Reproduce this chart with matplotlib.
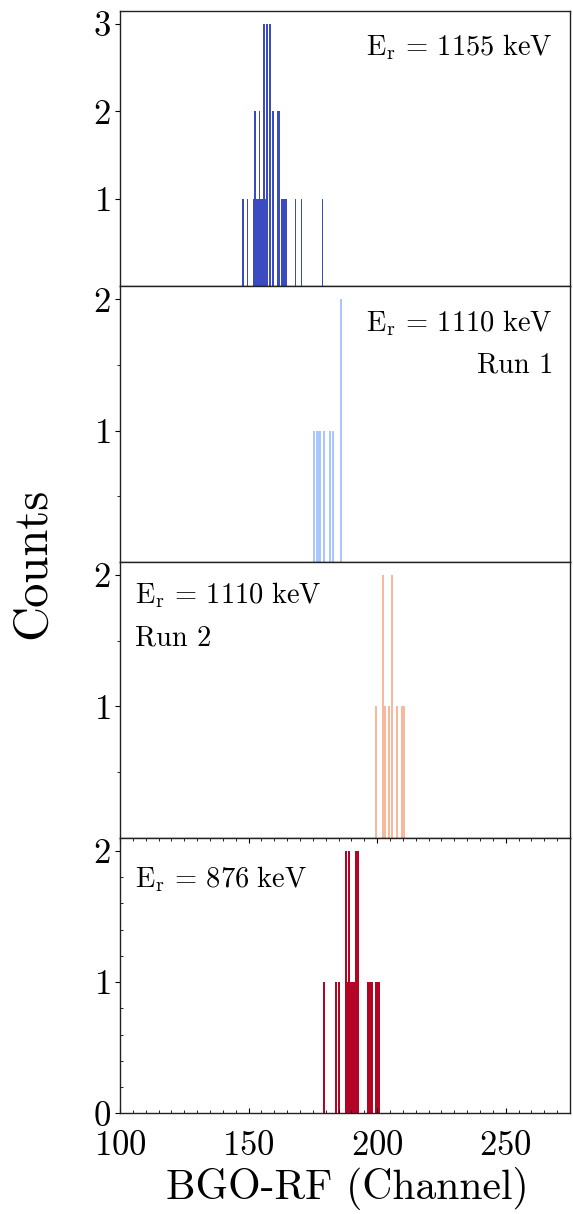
import matplotlib
matplotlib.use("Agg")
import matplotlib.pyplot as plt
import numpy as np

plt.rcParams['font.family'] = 'serif'
plt.rcParams['font.serif'] = ['cmr10']
plt.rcParams['mathtext.fontset'] = 'cm'
plt.rcParams['axes.formatter.use_mathtext'] = True

# ---- data (bin centres in channel, counts) ----
bin_width = 0.76

p1_channels = [147.83, 149.58, 151.92, 152.50, 153.08, 153.67, 154.25, 154.83,
               155.42, 156.00, 156.58, 157.17, 158.33, 159.50, 161.25, 161.83,
               163.00, 163.58, 164.17, 164.75, 168.25, 170.58, 178.75]
p1_counts = [1, 1, 1, 2, 1, 1, 2, 1, 1, 3, 1, 3, 3, 2, 2, 2, 1, 1, 1, 1, 1, 1, 1]

p2_channels = [175.48, 176.64, 177.22, 177.81, 179.37, 181.71, 182.88, 185.99]
p2_counts = [1, 1, 1, 1, 1, 1, 1, 2]

p3_channels = [199.63, 202.35, 202.93, 204.69, 205.86, 207.81, 209.76, 210.34]
p3_counts = [1, 2, 1, 1, 2, 1, 1, 1]

p4_channels = [179.37, 184.05, 185.21, 187.79, 188.38, 188.96, 189.54, 190.13,
               190.71, 191.29, 191.88, 192.46, 196.45, 197.03, 197.61, 198.20,
               199.50, 200.08, 200.66]
p4_counts = [1, 1, 1, 2, 1, 2, 1, 1, 1, 1, 2, 2, 1, 1, 1, 1, 1, 1, 1]

labels = [r'$\mathrm{E_r\,=\,1155\ keV}$', r'$\mathrm{E_r\,=\,1110\ keV}$',
          r'$\mathrm{E_r\,=\,1110\ keV}$', r'$\mathrm{E_r\,=\,876\ keV}$']
run_labels = [None, 'Run 1', 'Run 2', None]

xticks = [100, 150, 200, 250]

cmap = plt.get_cmap('coolwarm')
colors = [cmap(0.0), cmap(1/3), cmap(2/3), cmap(1.0)]

channels = [p1_channels, p2_channels, p3_channels, p4_channels]
counts = [p1_counts, p2_counts, p3_counts, p4_counts]

fig = plt.figure(figsize=(5.73, 12.14), dpi=100)
gs = fig.add_gridspec(4, 1, left=120/573, right=570/573,
                      top=1 - 10.7/1214, bottom=1 - 1113.3/1214, hspace=0)
axes = [fig.add_subplot(gs[i]) for i in range(4)]

for i, ax in enumerate(axes):
    ax.bar(channels[i], counts[i], width=bin_width, color=colors[i],
           linewidth=0, align='center')
    ymax = max(counts[i]) * 1.05
    ax.set_ylim(0, ymax)
    ax.set_xlim(100, 275)
    for s in ax.spines.values():
        s.set_linewidth(1.0)
        s.set_color('#222222')
    ax.tick_params(axis='y', which='both', direction='out', labelsize=25,
                   pad=3, length=3.5, width=0.8)
    ax.tick_params(axis='y', which='minor', length=2.5, width=0.6)
    if i == 0:
        ax.set_yticks([1, 2, 3])
    elif i in (1, 2):
        ax.set_yticks([1, 2])
        ax.set_yticks([0.5, 1.5], minor=True)
    else:
        ax.set_yticks([0, 1, 2])
        ax.set_yticks(np.arange(0.2, 2.1, 0.2), minor=True)
        ax.tick_params(axis='y', which='minor', direction='in')
    if i < 3:
        ax.set_xticks([])
        ax.set_xticks([], minor=True)
    else:
        ax.set_xticks(xticks)
        ax.set_xticks(np.arange(100, 276, 5), minor=True)
        ax.tick_params(axis='x', which='both', direction='in', top=True,
                       labelsize=25, pad=12, length=3.5, width=0.8)
        ax.tick_params(axis='x', which='minor', length=2.0, width=0.6)

# annotations
ann_y = [0.839, 0.837, 0.85, 0.819]
axes[0].text(0.962, ann_y[0], labels[0], transform=axes[0].transAxes,
             ha='right', va='baseline', fontsize=20.5)
axes[1].text(0.962, ann_y[1], labels[1], transform=axes[1].transAxes,
             ha='right', va='baseline', fontsize=20.5)
axes[1].text(0.962, 0.686, run_labels[1], transform=axes[1].transAxes,
             ha='right', va='baseline', fontsize=20.5)
axes[2].text(0.033, ann_y[2], labels[2], transform=axes[2].transAxes,
             ha='left', va='baseline', fontsize=20.5)
axes[2].text(0.033, 0.697, run_labels[2], transform=axes[2].transAxes,
             ha='left', va='baseline', fontsize=20.5)
axes[3].text(0.033, ann_y[3], labels[3], transform=axes[3].transAxes,
             ha='left', va='baseline', fontsize=20.5)

fig.text(347/573, 1 - 1199/1214, 'BGO-RF (Channel)', ha='center',
         va='baseline', fontsize=30)
fig.text(33/573, 1 - 563/1214, 'Counts', ha='center', va='center',
         rotation=90, fontsize=35)

fig.savefig('out.png', dpi=100)
